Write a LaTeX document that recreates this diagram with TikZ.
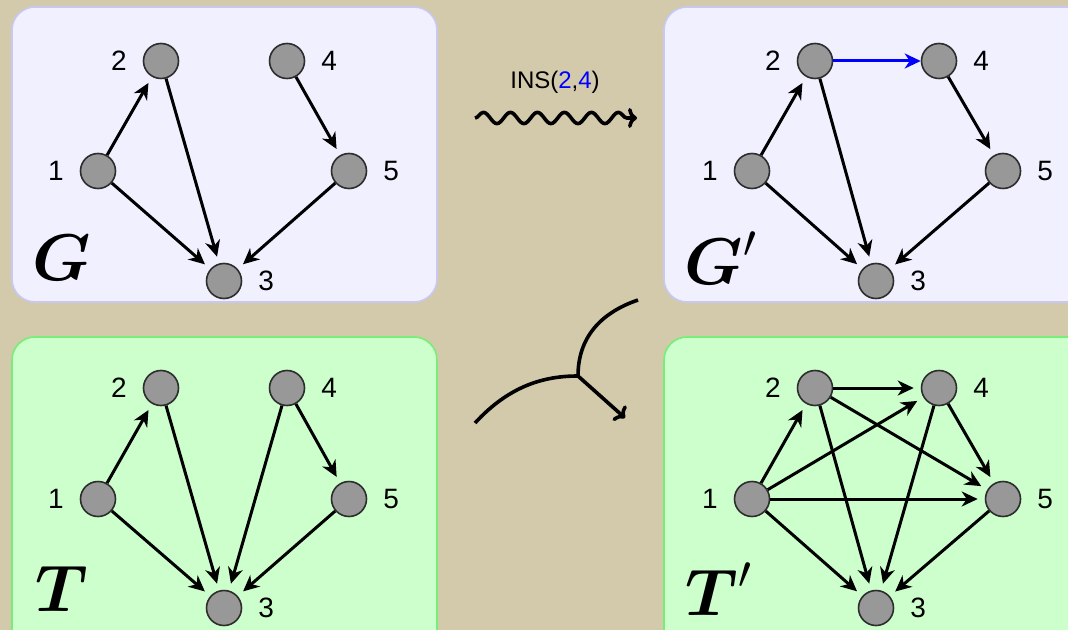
\RequirePackage{fix-cm}
\documentclass[tikz,border=0pt]{standalone}
\usepackage{fontspec}
\setsansfont{Liberation Sans}
\usetikzlibrary{arrows.meta,decorations.pathmorphing}
\definecolor{bgtan}{RGB}{211,201,171}
\definecolor{gfill}{RGB}{240,240,255}
\definecolor{gborder}{RGB}{200,200,242}
\definecolor{tfill}{RGB}{204,255,204}
\definecolor{tborder}{RGB}{120,238,120}
\definecolor{nodefill}{RGB}{152,152,152}
\definecolor{nodeline}{RGB}{45,45,45}
\begin{document}
\begin{tikzpicture}[x=0.5pt,y=-0.5pt,
  vert/.style={circle,draw=nodeline,fill=nodefill,line width=0.8pt,minimum size=17.5pt,inner sep=0pt},
  lbl/.style={font=\sffamily\fontsize{14}{16}\selectfont,label distance=4.5pt},
  edge/.style={line width=1.5pt,-{Stealth[length=8pt,width=7.5pt,inset=2.5pt]},shorten >=3.5pt},
  gpanel/.style={rounded corners=11.5pt,fill=gfill,draw=gborder,line width=0.8pt},
  tpanel/.style={rounded corners=11.5pt,fill=tfill,draw=tborder,line width=0.8pt},
  big/.style={font=\fontsize{33}{33}\selectfont},
  flow/.style={line width=1.8pt}]
\useasboundingbox (0,0) rectangle (1068,630);
\clip (0,0) rectangle (1068,630);
\fill[bgtan] (0,0) rectangle (1068,630);
% panels
\draw[gpanel] (12,7) rectangle (437,302);
\draw[gpanel] (664,7) rectangle (1120,302);
\draw[tpanel] (12,337) rectangle (437,680);
\draw[tpanel] (664,337) rectangle (1120,680);
% G
\node[vert,label={[lbl]left:1}] (g1) at (98,171) {};
\node[vert,label={[lbl]left:2}] (g2) at (161,61) {};
\node[vert,label={[lbl]right:4}] (g4) at (287,61) {};
\node[vert,label={[lbl]right:5}] (g5) at (349,171) {};
\node[vert,label={[lbl]right:3}] (g3) at (224,281) {};
\draw[edge] (g1) -- (g2);
\draw[edge] (g1) -- (g3);
\draw[edge] (g2) -- (g3);
\draw[edge] (g4) -- (g5);
\draw[edge] (g5) -- (g3);
\node[big] (gl) at (62,258) {$\mbox{\boldmath$G$}$};
% G'
\node[vert,label={[lbl]left:1}] (h1) at (752,171) {};
\node[vert,label={[lbl]left:2}] (h2) at (815,61) {};
\node[vert,label={[lbl]right:4}] (h4) at (939,61) {};
\node[vert,label={[lbl]right:5}] (h5) at (1003,171) {};
\node[vert,label={[lbl]right:3}] (h3) at (876,281) {};
\draw[edge] (h1) -- (h2);
\draw[edge] (h1) -- (h3);
\draw[edge] (h2) -- (h3);
\draw[edge,blue,shorten >=0pt] (h2) -- (h4);
\draw[edge] (h4) -- (h5);
\draw[edge] (h5) -- (h3);
\node[big] (hl) at (721,258) {$\mbox{\boldmath$G$}'$};
% T
\node[vert,label={[lbl]left:1}] (t1) at (98,499) {};
\node[vert,label={[lbl]left:2}] (t2) at (161,388) {};
\node[vert,label={[lbl]right:4}] (t4) at (287,388) {};
\node[vert,label={[lbl]right:5}] (t5) at (349,499) {};
\node[vert,label={[lbl]right:3}] (t3) at (224,608) {};
\draw[edge] (t1) -- (t2);
\draw[edge] (t1) -- (t3);
\draw[edge] (t2) -- (t3);
\draw[edge] (t4) -- (t3);
\draw[edge] (t4) -- (t5);
\draw[edge] (t5) -- (t3);
\node[big] (tl) at (62,589) {$\mbox{\boldmath$T$}$};
% T'
\node[vert,label={[lbl]left:1}] (u1) at (752,499) {};
\node[vert,label={[lbl]left:2}] (u2) at (815,388) {};
\node[vert,label={[lbl]right:4}] (u4) at (939,388) {};
\node[vert,label={[lbl]right:5}] (u5) at (1003,499) {};
\node[vert,label={[lbl]right:3}] (u3) at (876,608) {};
\draw[edge] (u1) -- (u2);
\draw[edge] (u1) -- (u4);
\draw[edge] (u1) -- (u5);
\draw[edge] (u1) -- (u3);
\draw[edge] (u2) -- (u4);
\draw[edge] (u2) -- (u5);
\draw[edge] (u2) -- (u3);
\draw[edge] (u4) -- (u5);
\draw[edge] (u4) -- (u3);
\draw[edge] (u5) -- (u3);
\node[big] (ul) at (719,589) {$\mbox{\boldmath$T$}'$};
% wavy arrow
\coordinate (ws) at (475,118);
\coordinate (we) at (637,118);
\draw[flow,decorate,decoration={snake,amplitude=2.8pt,segment length=13.5pt,post length=5pt},-{To[length=4.5pt,width=10pt]}] (ws) -- (we);
\node[font=\sffamily\fontsize{12}{14}\selectfont] (ins) at (555,82) {INS(\textcolor{blue}{2},\textcolor{blue}{4})};
% merge symbol
\coordinate (m) at (578,376);
\coordinate (ma) at (475,423);
\coordinate (mb) at (638,300);
\coordinate (mc) at (625,418);
\draw[flow] (ma) .. controls (510,385) and (545,376) .. (m);
\draw[flow] (m) .. controls (578,338) and (600,313) .. (mb);
\draw[flow,-{To[length=4.5pt,width=10pt]}] (m) -- (mc);
\end{tikzpicture}
\end{document}
